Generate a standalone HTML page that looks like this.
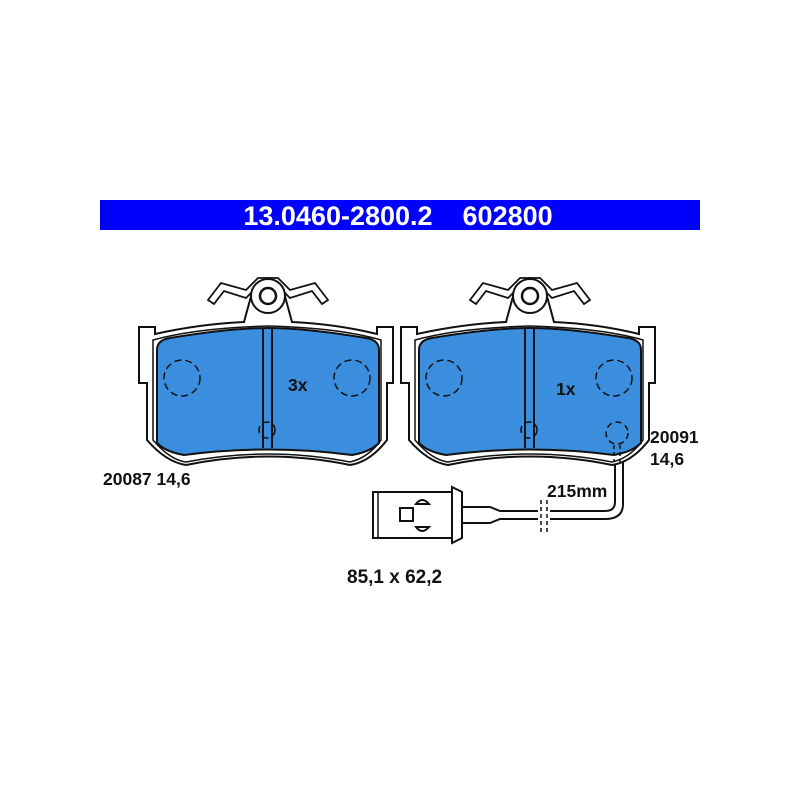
<!DOCTYPE html>
<html><head><style>
html,body{margin:0;padding:0;background:#fff;}
svg{display:block}
text{font-family:"Liberation Sans",Arial,sans-serif;font-weight:bold;fill:#111}
</style></head><body>
<svg width="800" height="800" viewBox="0 0 800 800" xmlns="http://www.w3.org/2000/svg">
<rect x="100" y="200" width="600" height="30" fill="#0000ff"/>
<text x="398" y="225" font-size="27" text-anchor="middle" style="fill:#fff">13.0460-2800.2&#160;&#160;&#160;&#160;602800</text>
<defs>
<g id="pad">
 <path d="M139,327 L155,327 L155,334 Q200,324 244,322 L250,300 Q255,280 268,278 Q281,280 286,300 L292,322 Q336,324 377,334 L377,327 L393,327 L393,383 L387,383 L387,440 Q370,462 350,465 Q268,448 186,465 Q166,462 147,440 L147,383 L139,383 Z" fill="#fff" stroke="#111" stroke-width="2"/>
 <path d="M153,340 L153,440 Q170,460 186,462 Q268,446 350,462 Q368,458 381,440 L381,340 Q340,328 268,326 Q196,328 153,340 Z" fill="none" stroke="#111" stroke-width="1.5"/>
 <path d="M208,300 L221,283 L246,290 L258,278 L278,278 L290,290 L315,283 L328,300 L322,304 L312,291 L290,298 L278,286 L258,286 L246,298 L224,291 L214,304 Z" fill="#fff" stroke="#111" stroke-width="1.8"/>
 <circle cx="268" cy="296" r="17" fill="#fff" stroke="#111" stroke-width="2"/>
 <circle cx="268" cy="296" r="8" fill="#fff" stroke="#111" stroke-width="2.5"/>
 <path d="M157,350 Q157,340 170,338 Q230,328 268,328 Q306,328 366,338 Q379,340 379,350 L379,443 Q370,452 352,455 Q268,444 184,455 Q166,452 157,443 Z" fill="#3a8edd" stroke="#111" stroke-width="2"/>
 <line x1="263" y1="329" x2="263" y2="448" stroke="#111" stroke-width="2"/>
 <line x1="272" y1="329" x2="272" y2="448" stroke="#111" stroke-width="2"/>
 <g fill="none" stroke="#111" stroke-width="1.5" stroke-dasharray="7,4">
  <circle cx="182" cy="378" r="18"/>
  <circle cx="352" cy="378" r="18"/>
  <circle cx="267" cy="430" r="8"/>
 </g>
</g>
</defs>
<use href="#pad"/>
<use href="#pad" transform="translate(262,0)"/>
<circle cx="617" cy="433" r="11" fill="none" stroke="#111" stroke-width="1.5" stroke-dasharray="6,4"/>
<line x1="614" y1="445" x2="614" y2="462" stroke="#111" stroke-width="1.5" stroke-dasharray="4,3"/>
<line x1="620" y1="445" x2="620" y2="462" stroke="#111" stroke-width="1.5" stroke-dasharray="4,3"/>
<path d="M615,464 L615,502 Q615,511 605,511 L500,511 L490,507 L462,507" fill="none" stroke="#111" stroke-width="2"/>
<path d="M623,462 L623,504 Q623,519 605,519 L500,519 L490,523 L462,523" fill="none" stroke="#111" stroke-width="2"/>
<rect x="538" y="505" width="12" height="20" fill="#fff"/>
<g stroke="#111" stroke-width="1.5" stroke-dasharray="4,3"><line x1="541" y1="500" x2="541" y2="532"/><line x1="547" y1="500" x2="547" y2="532"/></g>
<path d="M452,487 L462,492 L462,538 L452,543 Z" fill="#fff" stroke="#111" stroke-width="2"/>
<rect x="373" y="492" width="79" height="46" fill="#fff" stroke="#111" stroke-width="2"/>
<line x1="378" y1="492" x2="378" y2="538" stroke="#111" stroke-width="1.5"/>
<rect x="400" y="508" width="13" height="13" fill="#fff" stroke="#111" stroke-width="2"/>
<path d="M416,504 Q422,496 429,504 Z M416,527 Q422,535 429,527 Z" fill="#fff" stroke="#111" stroke-width="2"/>
<text x="103" y="485" font-size="17.5">20087 14,6</text>
<text x="650" y="443" font-size="17.5">20091</text>
<text x="650" y="465" font-size="17.5">14,6</text>
<text x="547" y="497" font-size="17.5">215mm</text>
<text x="288" y="391" font-size="17.5">3x</text>
<text x="556" y="395" font-size="17.5">1x</text>
<text x="347" y="583" font-size="19">85,1 x 62,2</text>
</svg>
</body></html>
